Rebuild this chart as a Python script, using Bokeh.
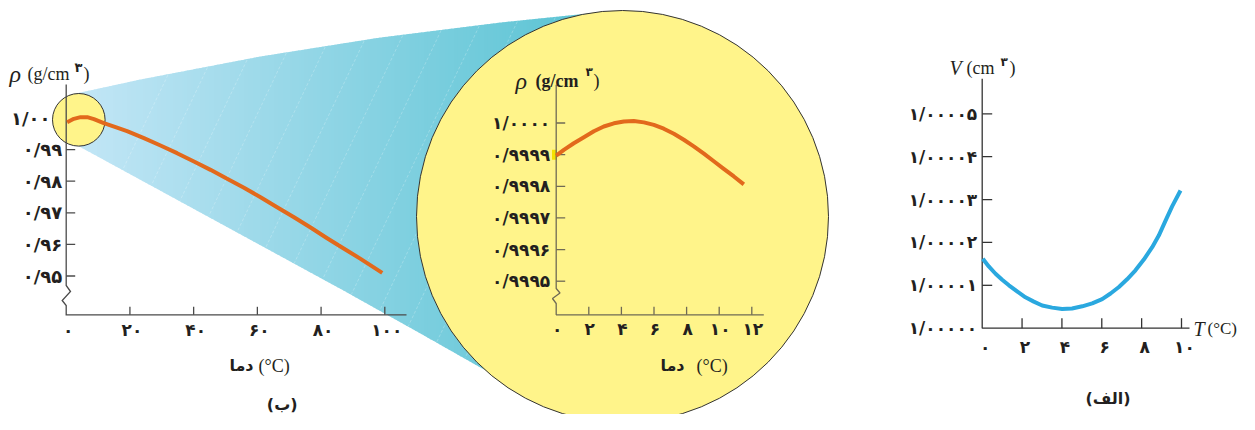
import numpy as np
from bokeh.plotting import figure
from bokeh.models import Range1d
from bokeh.core.properties import value
from bokeh.embed import file_html
from bokeh.resources import INLINE

# ---------------- data ----------------
# (b) density of water, 0-100 C
b_temp = [0.3, 2.4, 4.5, 6.6, 8.7, 11.8, 15.5, 19.1, 24.4, 29.6, 34.8, 40.1, 45.3,
          50.5, 55.8, 61.0, 66.2, 71.5, 76.7, 81.9, 87.1, 92.4, 99.2]
b_rho = [0.99868, 0.99974, 1.00026, 1.00026, 0.99963, 0.99836, 0.99710, 0.99583,
         0.99362, 0.99129, 0.98887, 0.98623, 0.98359, 0.98074, 0.97790, 0.97494,
         0.97177, 0.96861, 0.96534, 0.96196, 0.95869, 0.95542, 0.95099]
b_yticks = [1.00, 0.99, 0.98, 0.97, 0.96, 0.95]
b_ylabels = ["۱/۰۰", "۰/۹۹", "۰/۹۸", "۰/۹۷", "۰/۹۶", "۰/۹۵"]
b_xticks = [0, 20, 40, 60, 80, 100]
b_xlabels = ["۰", "۲۰", "۴۰", "۶۰", "۸۰", "۱۰۰"]

# magnified view 0-12 C
m_temp = [0, 0.47, 1.08, 1.70, 2.31, 2.92, 3.54, 4.15, 4.76, 5.38, 5.99, 6.60,
          7.22, 7.83, 8.44, 9.06, 9.67, 10.28, 10.90, 11.51]
m_rho = [0.999897, 0.999915, 0.999936, 0.999955, 0.999974, 0.999989, 0.999999,
         1.000005, 1.000006, 1.000002, 0.999994, 0.999982, 0.999966, 0.999947,
         0.999926, 0.999903, 0.999879, 0.999855, 0.999831, 0.999806]
m_yticks = [1.0000, 0.9999, 0.9998, 0.9997, 0.9996, 0.9995]
m_ylabels = ["۱/۰۰۰۰", "۰/۹۹۹۹", "۰/۹۹۹۸", "۰/۹۹۹۷", "۰/۹۹۹۶", "۰/۹۹۹۵"]
m_xticks = [0, 2, 4, 6, 8, 10, 12]
m_xlabels = ["۰", "۲", "۴", "۶", "۸", "۱۰", "۱۲"]

# (a) volume of 1 g of water, 0-10 C
a_temp = [0.03, 0.33, 0.67, 1.00, 1.34, 1.75, 2.17, 2.59, 3.01, 3.51, 4.01, 4.51,
          5.02, 5.52, 6.02, 6.44, 6.86, 7.27, 7.69, 8.11, 8.53, 8.86, 9.20, 9.53, 9.95]
a_vol = [1.0000162, 1.0000144, 1.0000127, 1.0000113, 1.0000100, 1.0000086,
         1.0000072, 1.0000062, 1.0000053, 1.0000048, 1.0000045, 1.0000046,
         1.0000051, 1.0000058, 1.0000068, 1.0000081, 1.0000096, 1.0000114,
         1.0000135, 1.0000160, 1.0000189, 1.0000216, 1.0000251, 1.0000284, 1.0000321]
a_yticks = [1.00000, 1.00001, 1.00002, 1.00003, 1.00004, 1.00005]
a_ylabels = ["۱/۰۰۰۰۰", "۱/۰۰۰۰۱", "۱/۰۰۰۰۲", "۱/۰۰۰۰۳", "۱/۰۰۰۰۴", "۱/۰۰۰۰۵"]
a_xticks = [0, 2, 4, 6, 8, 10]
a_xlabels = ["۰", "۲", "۴", "۶", "۸", "۱۰"]

# ---------------- canvas ----------------
W, H = 1239, 414
X0, X1, Y0, Y1 = 0, W, 0, H
p = figure(width=W, height=H, x_range=Range1d(X0, X1), y_range=Range1d(Y1, Y0),
           x_axis_type=None, y_axis_type=None, toolbar_location=None,
           output_backend="svg", min_border=0, outline_line_color=None,
           background_fill_color="white", border_fill_color="white")
p.grid.visible = False

xr, yr = {}, {}
def panel(name, xd, xp, yd, yp):
    kx = (xd[1] - xd[0]) / (xp[1] - xp[0])
    ky = (yd[1] - yd[0]) / (yp[1] - yp[0])
    xr[name + "x"] = Range1d(start=xd[0] + (X0 - xp[0]) * kx, end=xd[0] + (X1 - xp[0]) * kx)
    yr[name + "y"] = Range1d(start=yd[0] + (Y1 - yp[0]) * ky, end=yd[0] + (Y0 - yp[0]) * ky)
    tx = lambda px: xd[0] + (px - xp[0]) * kx
    ty = lambda py: yd[0] + (py - yp[0]) * ky
    return dict(x_range_name=name + "x", y_range_name=name + "y"), tx, ty, kx, ky

RB, btx, bty, bkx, bky = panel("b", (0, 100), (65.7, 384.3), (1.00, 0.95), (117.5, 275.5))
RM, mtx, mty, mkx, mky = panel("m", (0, 12), (555.7, 751.3), (1.0000, 0.9995), (122.5, 280.7))
RA, atx, aty, akx, aky = panel("a", (0, 10), (981.7, 1181.0), (1.00000, 1.00005), (327.7, 113.3))
p.extra_x_ranges = xr
p.extra_y_ranges = yr

INK = "#231f20"
PFONT = value("DejaVu Sans")
SERIF = value("Liberation Serif")

# ---------------- cone (gradient + stripes) ----------------
up_x = [70, 140, 260, 380, 500, 593, 650]
up_y = [94.2, 79, 56, 37, 22, 12.5, 14]
lo_x = [70, 343, 420, 487, 560, 650]
lo_y = [141.2, 290, 333, 371, 405, 410]
def up(x): return np.interp(x, up_x, up_y)
def lo(x): return np.interp(x, lo_x, lo_y)

c_left = np.array([194, 230, 246])
c_right = np.array([88, 195, 211])
xs_, ys_, cols = [], [], []
edges = np.arange(70, 652, 3.0)
for xa, xb in zip(edges[:-1], edges[1:]):
    xb2 = xb + 0.8
    xs_.append([xa, xb2, xb2, xa])
    ys_.append([up(xa), up(xb2), lo(xb2), lo(xa)])
    t = min(max((xa - 80) / 520.0, 0), 1)
    c = (c_left * (1 - t) + c_right * t).astype(int)
    cols.append("#%02x%02x%02x" % tuple(c))
p.patches(xs_, ys_, fill_color=cols, line_color=None)

sx, sy = [], []
yy = np.arange(0, 430, 0.5)
for c0 in np.arange(60, 700, 36):
    xx = c0 + (300 - yy) / 2.1
    ok = (yy > up(xx) + 0.5) & (yy < lo(xx) - 0.5) & (xx > 95) & (xx < 648)
    if ok.sum() > 2:
        sx.append([xx[ok][0], xx[ok][-1]])
        sy.append([yy[ok][0], yy[ok][-1]])
p.multi_line(sx, sy, line_color="white", line_alpha=0.3, line_width=0.8, line_dash="3 2")

# ---------------- panel (b) ----------------
AX = "#4a4a4a"
p.segment(x0=[0] * 5, y0=b_yticks[1:], x1=[9 * bkx] * 5, y1=b_yticks[1:], line_color=AX, line_width=1.3, **RB)
b_axis_y = bty(314.3)
p.segment(x0=b_xticks[1:], y0=[b_axis_y] * 5, x1=b_xticks[1:], y1=[b_axis_y - 8 * bky] * 5,
          line_color=AX, line_width=1.3, **RB)
p.circle(x=[btx(78.3)], y=[bty(119.3)], radius=26.3, radius_units="screen",
         fill_color="#fff48a", line_color="#333333", line_width=1, **RB)
p.line(x=[0, 0, btx(70), btx(61.7), 0, 0, btx(406)],
       y=[bty(84), bty(285), bty(291), bty(300), bty(305), b_axis_y, b_axis_y],
       line_color=AX, line_width=1.3, line_join="miter", **RB)
p.line(b_temp, b_rho, line_color="#e2691c", line_width=4, line_join="round", **RB)
p.text(x=[0] * 6, y=b_yticks, text=b_ylabels, x_offset=[-15.7, -4, -4, -4, -4, -4],
       text_font=PFONT, text_font_style="bold", text_font_size="18px", text_color=INK,
       text_align="right", text_baseline="middle", **RB)
p.text(x=b_xticks, y=[b_axis_y] * 6, text=b_xlabels, x_offset=2, y_offset=15,
       text_font=PFONT, text_font_style="bold", text_font_size="17px", text_color=INK,
       text_align="center", text_baseline="middle", **RB)

# ---------------- magnified view ----------------
p.circle(x=[622], y=[216], radius=206, radius_units="screen",
         fill_color="#fff48a", line_color="#333333", line_width=1)
MAX = "#6f6a55"
m_axis_y = mty(314.3)
p.rect(x=[mtx(554)], y=[0.9999], width=5, height=10, width_units="screen", height_units="screen",
       fill_color="#f5e300", line_color=None, **RM)
p.segment(x0=[0] * 6, y0=m_yticks, x1=[9 * mkx] * 6, y1=m_yticks, line_color=MAX, line_width=1.3, **RM)
p.segment(x0=m_xticks[1:], y0=[m_axis_y] * 6, x1=m_xticks[1:], y1=[m_axis_y - 8 * mky] * 6,
          line_color=MAX, line_width=1.3, **RM)
p.line(x=[0, 0, mtx(559.5), mtx(552), 0, 0, mtx(763.3)],
       y=[mty(84.3), mty(288), mty(292.5), mty(298), mty(303), m_axis_y, m_axis_y],
       line_color=MAX, line_width=1.3, **RM)
p.line(m_temp, m_rho, line_color="#e2691c", line_width=4, line_join="round", **RM)
p.text(x=[0] * 6, y=m_yticks, text=m_ylabels, x_offset=-6,
       text_font=PFONT, text_font_style="bold", text_font_size="17px", text_color=INK,
       text_align="right", text_baseline="middle", **RM)
p.text(x=m_xticks, y=[m_axis_y] * 7, text=m_xlabels, x_offset=1, y_offset=14,
       text_font=PFONT, text_font_style="bold", text_font_size="17px", text_color=INK,
       text_align="center", text_baseline="middle", **RM)

# ---------------- panel (a) ----------------
AAX = "#333333"
a_axis_y = 1.00000
p.segment(x0=[0] * 5, y0=a_yticks[1:], x1=[10 * akx] * 5, y1=a_yticks[1:], line_color=AAX, line_width=1.3, **RA)
p.segment(x0=a_xticks[1:], y0=[a_axis_y] * 5, x1=a_xticks[1:], y1=[a_axis_y - 10 * aky] * 5,
          line_color=AAX, line_width=1.3, **RA)
p.line(x=[0, 0, atx(1189)], y=[aty(78.3), a_axis_y, a_axis_y], line_color=AAX, line_width=1.3, **RA)
p.line(a_temp, a_vol, line_color="#2aa8df", line_width=4, line_join="round", **RA)
p.text(x=[0] * 6, y=a_yticks, text=a_ylabels, x_offset=-5,
       text_font=PFONT, text_font_style="bold", text_font_size="17px", text_color=INK,
       text_align="right", text_baseline="middle", **RA)
p.text(x=a_xticks, y=[a_axis_y] * 6, text=a_xlabels, x_offset=3, y_offset=19,
       text_font=PFONT, text_font_style="bold", text_font_size="17px", text_color=INK,
       text_align="center", text_baseline="middle", **RA)

# ---------------- titles ----------------
def txt(x, y, s, font=SERIF, size="18px", style="normal", align="left", base="alphabetic"):
    p.text(x=[x], y=[y], text=[s], text_font=font, text_font_size=size, text_font_style=style,
           text_color=INK, text_align=align, text_baseline=base)

# (b)
txt(9, 73, "ρ", size="24px", style="italic")
txt(27, 73, "(g/cm")
txt(74, 67, "۳", font=PFONT, size="13px", style="bold")
txt(83, 73, ")")
txt(253, 365, "دما", font=PFONT, size="16px", style="bold", align="right", base="middle")
txt(258, 365, "(°C)", base="middle")
txt(281.7, 413, "(ب)", font=PFONT, size="16px", style="bold", align="center", base="bottom")

# magnified
txt(515, 80, "ρ", size="24px", style="italic")
txt(535, 80, "(g/cm", style="bold")
txt(585, 71, "۳", font=PFONT, size="12px", style="bold")
txt(593, 80, ")")
txt(684, 365, "دما", font=PFONT, size="16px", style="bold", align="right", base="middle")
txt(696, 365, "(°C)", base="middle")

# (a)
txt(949, 67, "V", size="20px", style="italic")
txt(966, 67, "(cm")
txt(1000, 61, "۳", font=PFONT, size="12px", style="bold")
txt(1009, 67, ")")
txt(1193, 328, "T", size="20px", style="italic", base="middle")
txt(1207, 328, "(°C)", size="17px", base="middle")
txt(1107.5, 398, "(الف)", font=PFONT, size="16px", style="bold", align="center", base="middle")

open("out.html", "w").write(file_html(p, INLINE))
